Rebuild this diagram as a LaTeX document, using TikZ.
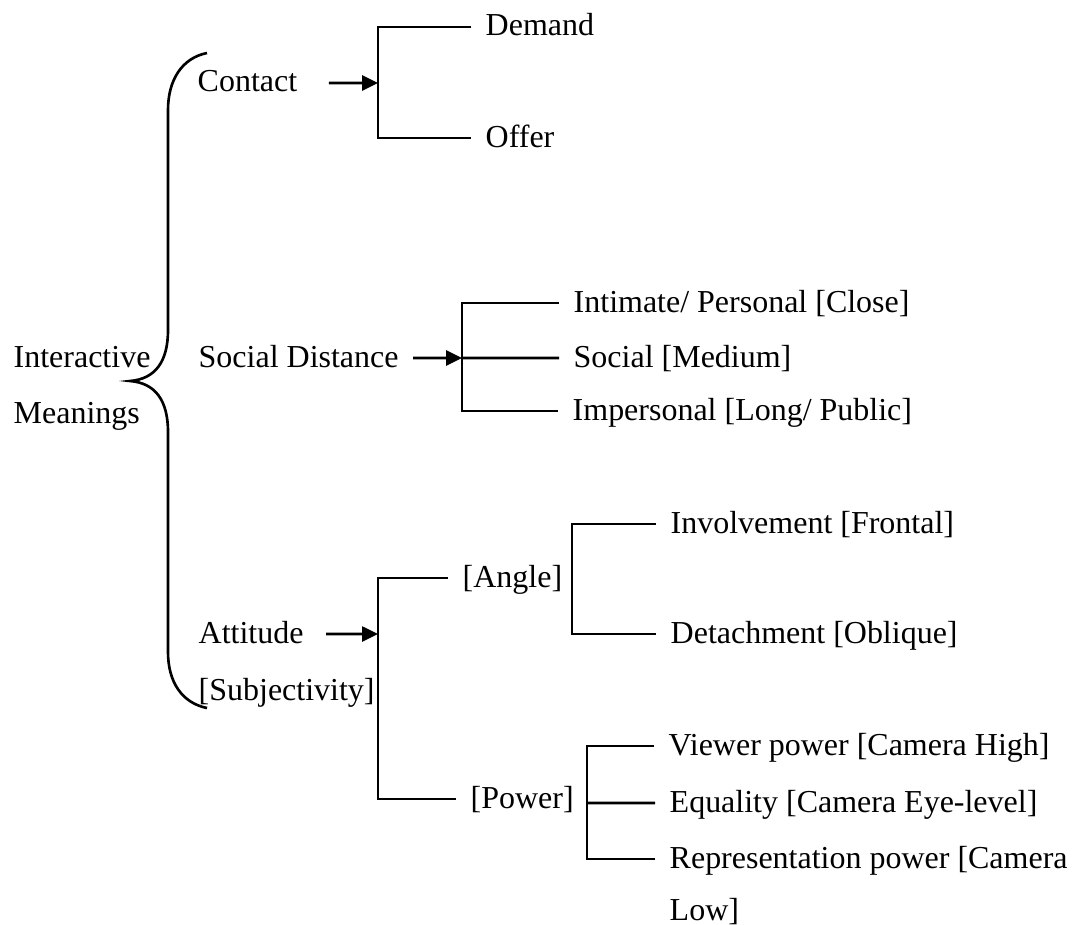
\documentclass[tikz,border=0pt]{standalone}
\usepackage{fontspec}
\setmainfont{Liberation Serif}
\usetikzlibrary{arrows.meta}

\begin{document}
\begin{tikzpicture}[
  font=\fontsize{9.1pt}{11pt}\selectfont,
  lbl/.style={anchor=base west,inner xsep=1.4mm,inner ysep=0pt,
              text height=1.8mm,text depth=0pt},
  link/.style={line width=0.75pt},
  >={Triangle[length=1.6mm,width=1.5mm]}
]
  \useasboundingbox (0,0) rectangle (10.75,-9.24);

  % left column
  \node[lbl] (inter) at (-0.01,-3.67) {Interactive};
  \node[lbl] (mean) at (-0.01,-4.23) {Meanings};
  \node[lbl] (contact) at (1.83,-0.92) {Contact};
  \node[lbl] (socdist) at (1.84,-3.67) {Social Distance};
  \node[lbl] (attitude) at (1.84,-6.43) {Attitude};
  \node[lbl] (subj) at (1.84,-7.00) {[Subjectivity]};

  % contact
  \node[lbl] (demand) at (4.71,-0.36) {Demand};
  \node[lbl] (offer) at (4.71,-1.47) {Offer};
  % social distance
  \node[lbl] (intimate) at (5.59,-3.12) {Intimate/ Personal [Close]};
  \node[lbl] (social) at (5.59,-3.67) {Social [Medium]};
  \node[lbl] (imperson) at (5.58,-4.20) {Impersonal [Long/ Public]};
  % attitude
  \node[lbl] (angle) at (4.48,-5.87) {[Angle]};
  \node[lbl] (power) at (4.56,-8.08) {[Power]};
  \node[lbl] (involve) at (6.56,-5.33) {Involvement [Frontal]};
  \node[lbl] (detach) at (6.56,-6.43) {Detachment [Oblique]};
  \node[lbl] (viewer) at (6.54,-7.55) {Viewer power [Camera High]};
  \node[lbl] (equal) at (6.55,-8.12) {Equality [Camera Eye-level]};
  \node[lbl] (repr) at (6.55,-8.68) {Representation power [Camera};
  \node[lbl] (low) at (6.55,-9.20) {Low]};

  % junctions
  \coordinate (cj) at (3.78,-0.83);
  \coordinate (sj) at (4.62,-3.58);
  \coordinate (aj) at (3.78,-6.34);
  \coordinate (gj) at (5.72,-5.80);
  \coordinate (pj) at (5.87,-8.03);

  % brace
  \draw[link] (2.07,-0.53) .. controls (1.82,-0.58) and (1.68,-0.80) .. (1.68,-1.10)
    -- (1.68,-3.30) .. controls (1.68,-3.62) and (1.55,-3.79) .. (1.30,-3.81)
    .. controls (1.55,-3.83) and (1.68,-4.00) .. (1.68,-4.32)
    -- (1.68,-6.52) .. controls (1.68,-6.82) and (1.82,-7.03) .. (2.07,-7.08);

  \draw[link,->,shorten <=1.7mm] (contact.east) -- (cj);
  \draw[link,->] (socdist.east) -- (sj);
  \draw[link,->,shorten <=0.8mm] (attitude.east) -- (aj);

  \draw[link] (demand.west) -| (cj) |- (offer.west);
  \draw[link] (intimate.west) -| (sj) |- (imperson.west);
  \draw[link] (social.west) -- (sj);
  \draw[link] (angle.west) -| (aj) |- (power.west);
  \draw[link] (involve.west) -| (gj) |- (detach.west);
  \draw[link] (viewer.west) -| (pj) |- (repr.west);
  \draw[link] (equal.west) -- (pj);
\end{tikzpicture}
\end{document}
